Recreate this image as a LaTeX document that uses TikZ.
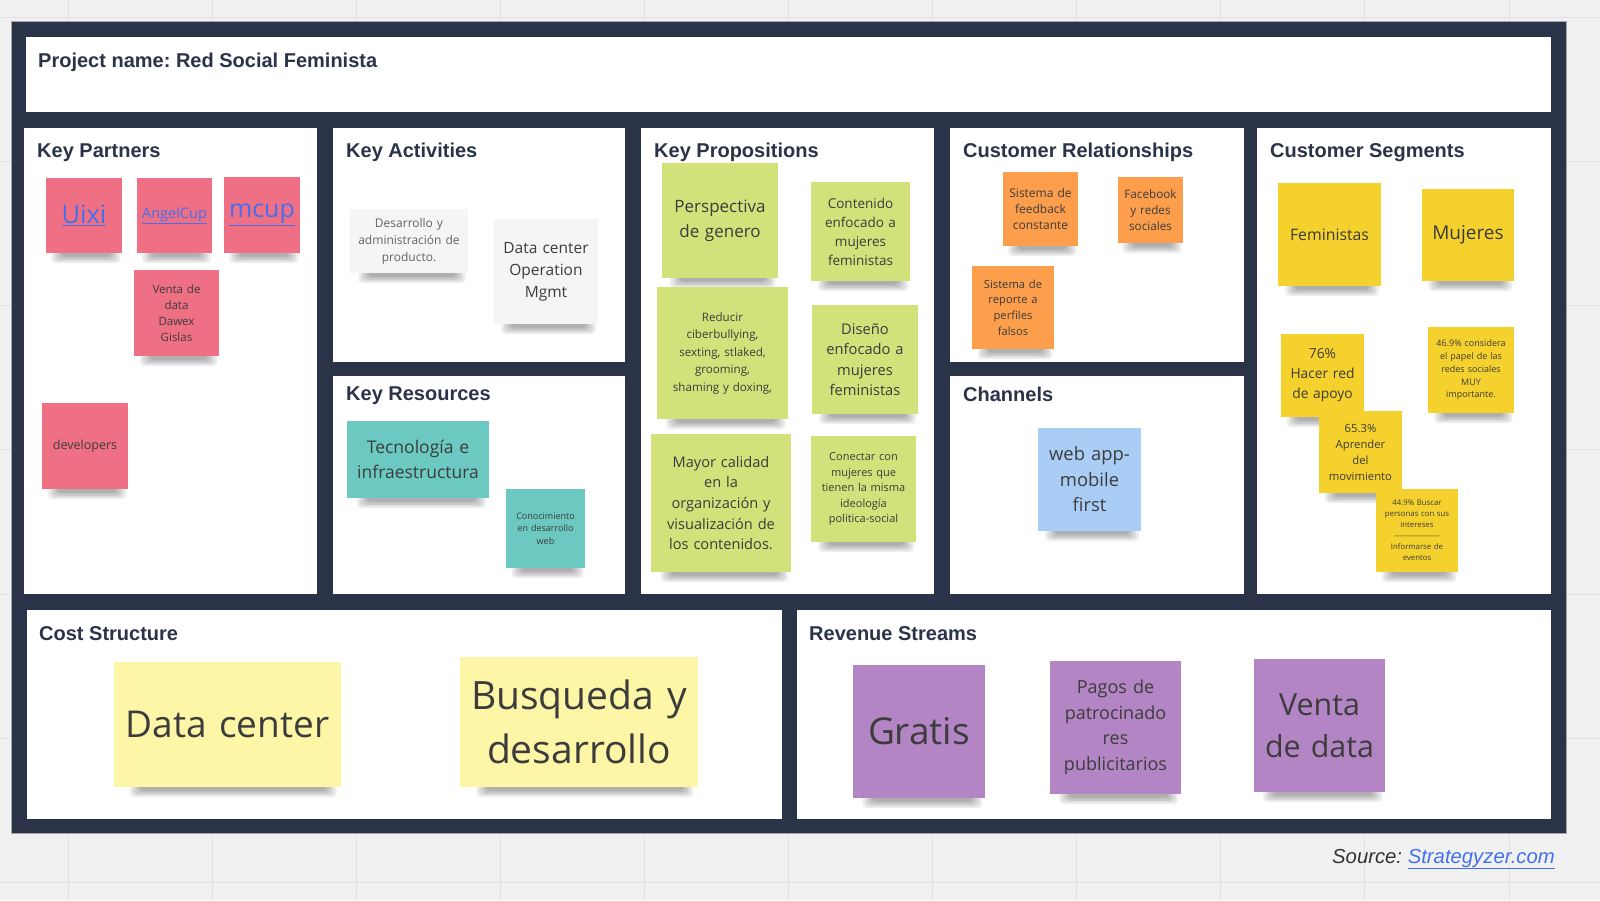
\documentclass[tikz,border=0pt]{standalone}
\usepackage{fontspec}
\setmainfont{Open Sans}
\newfontfamily\hfont{Liberation Sans}
\usetikzlibrary{fadings}
\frenchspacing
\definecolor{framec}{HTML}{2B3349}
\definecolor{bgc}{HTML}{F1F1F1}
\definecolor{gridc}{HTML}{E1E1E1}
\definecolor{titlec}{HTML}{2B3349}
\definecolor{notetext}{HTML}{3C3C3C}
\definecolor{linkc}{HTML}{4470EE}
\definecolor{pinkc}{HTML}{EF6F84}
\definecolor{tealc}{HTML}{6CC9C1}
\definecolor{greenc}{HTML}{D3E17B}
\definecolor{orangec}{HTML}{FC9E4C}
\definecolor{yellowc}{HTML}{F5D12D}
\definecolor{bluec}{HTML}{A9CDF5}
\definecolor{purplec}{HTML}{B385C4}
\definecolor{lyellowc}{HTML}{FDF6A6}
\definecolor{grayc}{HTML}{F5F5F5}
\definecolor{srcc}{HTML}{333333}
\tikzset{
  note/.style={draw=none, inner sep=0pt, align=center, text=notetext},
  celltitle/.style={anchor=base west, inner sep=0pt, text=titlec, font=\hfont\bfseries\fontsize{20}{24}\selectfont},
  cellbox/.style={fill=white},
  gridline/.style={draw=gridc, line width=1pt},
  shadowlayer/.style={fill=black, opacity=0.07, rounded corners=4pt}
}
\newcommand\stickynote[8]{%
  \pgfmathsetmacro\nw{#5-#3}\pgfmathsetmacro\nh{#6-#4}\pgfmathsetmacro\tw{#5-#3-6}%
  \pgfmathsetmacro\cx{(#3+#5)/2}\pgfmathsetmacro\cy{(#4+#6)/2}%
  \foreach \j in {0,...,4} {\fill[shadowlayer] (#3+0.07*\nw+2.5*\j,#6-2) rectangle (#5-0.02*\nw-2.5*\j,#6+10-1.6*\j);}
  \node[note,fill=#2,minimum width=\nw pt,minimum height=\nh pt,text width=\tw pt,font=#7] (#1) at (\cx,\cy) {#8};%
}
\newcommand\fs[2]{\fontsize{#1}{#2}\selectfont}
\newcommand\dashrow{\foreach \i in {1,...,18}{-}}
\begin{document}
\begin{tikzpicture}[x=1pt,y=-1pt]
\useasboundingbox (0,0) rectangle (1600,900);
\fill[bgc] (0,0) rectangle (1600,900);
\foreach \k in {0,...,10} {\draw[gridline] ({68+144.1*\k},0) -- ({68+144.1*\k},900);}
\foreach \k in {0,...,6} {\draw[gridline] (0,{17+144.3*\k}) -- (1600,{17+144.3*\k});}
% frame
\fill[framec] (11,21) rectangle (1566,833);
\draw[gray!70, line width=0.8pt] (11,21) rectangle (1566,833);
% project box
\fill[cellbox] (26,37) rectangle (1551,112);
\node[celltitle] (proj) at (38,67) {Project name: Red Social Feminista};
% cells
\fill[cellbox] (24,128) rectangle (317,594);
\fill[cellbox] (333,128) rectangle (625,362);
\fill[cellbox] (333,376) rectangle (625,594);
\fill[cellbox] (641,128) rectangle (934,594);
\fill[cellbox] (950,128) rectangle (1244,362);
\fill[cellbox] (950,376) rectangle (1244,594);
\fill[cellbox] (1257,128) rectangle (1551,594);
\fill[cellbox] (27,610) rectangle (782,819);
\fill[cellbox] (797,610) rectangle (1551,819);
% titles
\node[celltitle] (tkp) at (37,157) {Key Partners};
\node[celltitle] (tka) at (346,157) {Key Activities};
\node[celltitle] (tkr) at (346,400) {Key Resources};
\node[celltitle] (tkpr) at (654,157) {Key Propositions};
\node[celltitle] (tcr) at (963,157) {Customer Relationships};
\node[celltitle] (tch) at (963,401) {Channels};
\node[celltitle] (tcs) at (1270,157) {Customer Segments};
\node[celltitle] (tcost) at (39,640) {Cost Structure};
\node[celltitle] (trev) at (809,640) {Revenue Streams};
% Key Partners
\stickynote{uixi}{pinkc}{46}{178}{122}{253}{\fs{25.5}{30}}{\color{linkc}\underline{Uixi}}
\stickynote{angel}{pinkc}{137}{178}{212}{253}{\fs{14.5}{18}}{\color{linkc}\underline{AngelCup}}
\stickynote{mcup}{pinkc}{224}{177}{300}{253}{\fs{25}{30}}{\color{linkc}\underline{mcup}}
\stickynote{venta}{pinkc}{134}{270}{219}{356}{\fs{11.5}{16}}{Venta de\\data\\Dawex\\Gislas}
\stickynote{devs}{pinkc}{42}{403}{128}{489}{\fs{12.5}{16}}{developers}
% Key Activities
\stickynote{desa}{grayc}{350}{209}{468}{273}{\fs{12}{17}}{\color{notetext!80}Desarrollo y\\administración de\\producto.}
\stickynote{dcops}{grayc}{494}{219}{598}{324}{\fs{15.5}{22}}{Data center\\Operation\\Mgmt}
% Key Resources
\stickynote{tec}{tealc}{347}{421}{489}{498}{\fs{17.5}{25}}{Tecnología e\\infraestructura}
\stickynote{conoc}{tealc}{506}{489}{585}{568}{\fs{9}{12.5}}{Conocimiento\\en desarrollo\\web}
% Key Propositions
\stickynote{persp}{greenc}{662}{163}{778}{278}{\fs{17}{25}}{Perspectiva\\de genero}
\stickynote{conten}{greenc}{811}{182}{910}{281}{\fs{13.5}{19}}{Contenido\\enfocado a\\mujeres\\feministas}
\stickynote{reduc}{greenc}{657}{287}{788}{419}{\fs{11.6}{17.5}}{Reducir\\ciberbullying,\\sexting, stlaked,\\grooming,\\shaming y doxing,}
\stickynote{diseno}{greenc}{812}{305}{918}{414}{\fs{14.7}{20.5}}{Diseño\\enfocado a\\mujeres\\feministas}
\stickynote{mayor}{greenc}{651}{434}{791}{572}{\fs{14.6}{20.7}}{Mayor calidad\\en la\\organización y\\visualización de\\los contenidos.}
\stickynote{conect}{greenc}{811}{436}{916}{542}{\fs{11}{15.5}}{Conectar con\\mujeres que\\tienen la misma\\ideología\\politica-social}
% Customer Relationships
\stickynote{feedb}{orangec}{1003}{172}{1078}{246}{\fs{12}{16}}{Sistema de\\feedback\\constante}
\stickynote{faceb}{orangec}{1118}{177}{1183}{243}{\fs{11.7}{16}}{Facebook\\y redes\\sociales}
\stickynote{report}{orangec}{972}{266}{1054}{349}{\fs{11.2}{15.7}}{Sistema de\\reporte a\\perfiles\\falsos}
% Channels
\stickynote{webapp}{bluec}{1038}{428}{1141}{531}{\fs{18.4}{25.5}}{web app-\\mobile\\first}
% Customer Segments
\stickynote{femin}{yellowc}{1278}{183}{1381}{286}{\fs{15.8}{20}}{Feministas}
\stickynote{mujer}{yellowc}{1422}{189}{1514}{281}{\fs{19}{24}}{Mujeres}
\stickynote{hacer}{yellowc}{1281}{334}{1364}{417}{\fs{13.8}{20}}{76\%\\Hacer red\\de apoyo}
\stickynote{consid}{yellowc}{1428}{327}{1514}{413}{\fs{9}{12.7}}{46.9\% considera\\el papel de las\\redes sociales\\MUY\\importante.}
\stickynote{aprend}{yellowc}{1319}{411}{1402}{493}{\fs{11.3}{16}}{65.3\%\\Aprender\\del\\movimiento}
\stickynote{buscar}{yellowc}{1376}{489}{1458}{572}{\fs{7.8}{11}}{44.9\% Buscar\\personas con sus\\intereses\\\dashrow\\Informarse de\\eventos}
% Cost Structure
\stickynote{dcenter}{lyellowc}{114}{662}{341}{787}{\fs{37}{46}}{Data center}
\stickynote{busq}{lyellowc}{460}{657}{698}{787}{\fs{39}{54}}{Busqueda y\\desarrollo}
% Revenue Streams
\stickynote{gratis}{purplec}{853}{665}{985}{798}{\fs{37}{44}}{Gratis}
\stickynote{pagos}{purplec}{1050}{661}{1181}{794}{\fs{18}{25.5}}{Pagos de\\patrocinado\\res\\publicitarios}
\stickynote{vdata}{purplec}{1254}{659}{1385}{792}{\fs{30.4}{42}}{Venta\\de data}
% source
\node[anchor=base east, inner sep=0pt, font=\hfont\itshape\fs{20.3}{25}] (src) at (1555,863) {\color{srcc}Source: \color{linkc}\underline{Strategyzer.com}};
\end{tikzpicture}
\end{document}
